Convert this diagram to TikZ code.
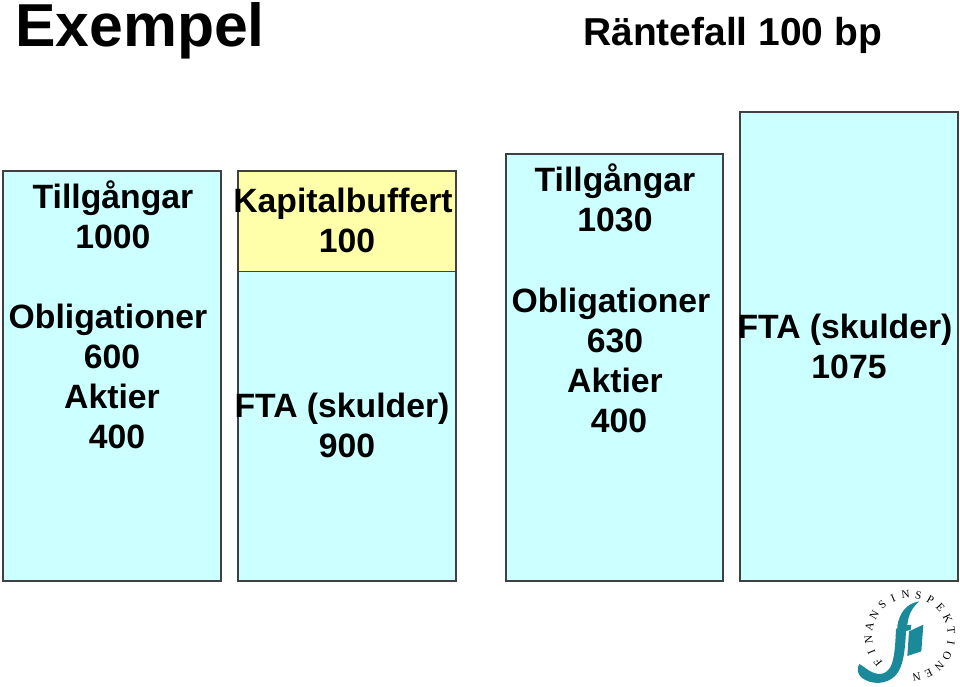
\documentclass[tikz,border=0pt]{standalone}
\usepackage{fontspec}
\setmainfont{Liberation Sans}
\newfontfamily\logofont{Liberation Serif}
\definecolor{boxcyan}{HTML}{CCFFFF}
\definecolor{boxyellow}{HTML}{FFFFAA}
\definecolor{boxline}{HTML}{404040}
\definecolor{logoteal}{HTML}{1A8A9A}
\tikzset{
  panel/.style={draw=boxline,line width=0.85pt,fill=#1},
  lbl/.style={font=\fontsize{25.3}{30}\selectfont\bfseries,text=black,align=center,inner sep=0pt,anchor=base},
  logoletter/.style={font=\fontsize{8.5}{10}\selectfont\logofont,text=black,inner sep=0pt}
}
\begin{document}
\begin{tikzpicture}[x=0.75pt,y=-0.75pt]
\useasboundingbox (0,0) rectangle (960,686);
\node[inner sep=0pt,anchor=base west,font=\fontsize{45.5}{50}\selectfont\bfseries] (title) at (15,46) {Exempel};
\node[inner sep=0pt,anchor=base west,font=\fontsize{29.2}{32}\selectfont\bfseries,text=black] (sub) at (583,45) {Räntefall 100 bp};

\draw[panel=boxcyan] (3,171) rectangle (221,581);
\draw[panel=boxyellow] (238,171) rectangle (456,271.5);
\draw[panel=boxcyan] (238,271.5) rectangle (456,581);
\draw[panel=boxcyan] (506,154) rectangle (723,581);
\draw[panel=boxcyan] (740,112) rectangle (958,581);

\node[lbl] (a1) at (113,208) {Tillgångar};
\node[lbl] (a2) at (113,248) {1000};
\node[lbl] (a3) at (108,328) {Obligationer};
\node[lbl] (a4) at (112,368) {600};
\node[lbl] (a5) at (112,408) {Aktier};
\node[lbl] (a6) at (117,448) {400};

\node[lbl] (b1) at (343,212) {Kapitalbuffert};
\node[lbl] (b2) at (347,252) {100};
\node[lbl] (b3) at (342,417) {FTA (skulder)};
\node[lbl] (b4) at (347,457) {900};

\node[lbl] (c1) at (615,191) {Tillgångar};
\node[lbl] (c2) at (615,231) {1030};
\node[lbl] (c3) at (611,312) {Obligationer};
\node[lbl] (c4) at (615,352) {630};
\node[lbl] (c5) at (615,392) {Aktier};
\node[lbl] (c6) at (619,432) {400};

\node[lbl] (d1) at (845,338) {FTA (skulder)};
\node[lbl] (d2) at (849,378) {1075};

% logo
\begin{scope}[shift={(840,576)},x=0.25pt,y=-0.25pt]
\fill[logoteal] (238,76) .. controls (200,82) and (178,110) .. (172,150)
  -- (172,158) -- (168,158)
  .. controls (166,200) and (165,235) .. (155,265)
  .. controls (145,290) and (125,300) .. (100,290)
  .. controls (85,285) and (70,270) .. (58,264)
  .. controls (50,275) and (52,295) .. (65,305)
  .. controls (95,328) and (140,325) .. (165,300)
  .. controls (190,275) and (195,225) .. (198,165)
  -- (212,162) -- (214,146) -- (202,148)
  .. controls (204,120) and (215,95) .. (238,76) -- cycle;
\fill[logoteal] (207,166) -- (250,146) -- (244,226) -- (202,240) -- cycle;
\foreach \ch [count=\i from 0] in {F,I,N,A,N,S,I,N,S,P,E,K,T,I,O,N,E,N}{
  \pgfmathsetmacro{\ang}{220-\i*17.7}
  \pgfmathsetmacro{\rx}{210+125*cos(\ang)}
  \pgfmathsetmacro{\ry}{180-125*sin(\ang)}
  \pgfmathsetmacro{\rot}{\ang-90}
  \node[logoletter,rotate=\rot] (L\i) at (\rx,\ry) {\ch};
}
\end{scope}
\end{tikzpicture}
\end{document}
